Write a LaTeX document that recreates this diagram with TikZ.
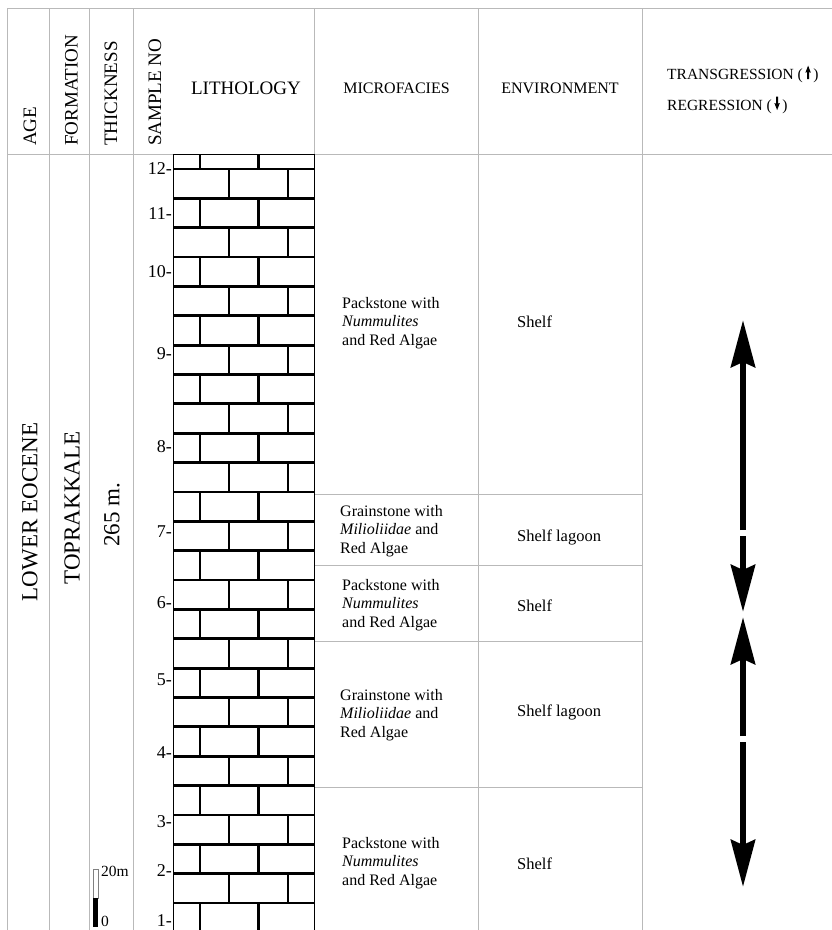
\documentclass[tikz,border=0pt]{standalone}
\usepackage{fontspec}
\setmainfont{Liberation Serif}
\usetikzlibrary{arrows.meta}

% small solid arrows used in the legend text
\newcommand{\uparr}{\tikz[baseline=0pt,x=1pt,y=1pt]\fill (-1,0) -- (-1,7) -- (-2.7,6.5) -- (0,13.5) -- (2.7,6.5) -- (1,7) -- (1,0) -- cycle;}
\newcommand{\downarr}{\tikz[baseline=0pt,x=1pt,y=1pt]\fill (-1,13.5) -- (-1,6.5) -- (-2.7,7) -- (0,0) -- (2.7,7) -- (1,6.5) -- (1,13.5) -- cycle;}

\tikzset{
  grid/.style={draw=gray!55, line width=0.8pt},
  brick/.style={line width=2.8pt},
  colhead/.style={font=\fontsize{19}{22}\selectfont, inner sep=0pt},
  vhead/.style={colhead, rotate=90, anchor=west},
  bigtext/.style={font=\fontsize{23}{26}\selectfont, inner sep=0pt, rotate=90},
  facies/.style={font=\fontsize{16}{18.7}\selectfont, align=left, anchor=west, inner sep=0pt},
  envtext/.style={font=\fontsize{16.5}{19}\selectfont, anchor=west, inner sep=0pt},
  sample/.style={font=\fontsize{18}{20}\selectfont, anchor=east, inner sep=0pt},
  trend/.style={line width=6.5pt, -{Stealth[length=47pt,width=24pt,inset=5pt]}}
}

\begin{document}
\begin{tikzpicture}[x=1pt,y=-1pt]
    \clip (0,0) rectangle (832,930);

    % Table frame
    \draw[grid] (7,8) -- (832,8) (7,154) -- (832,154);
    \foreach \x in {7,49,89,133,314,478,642}
        \draw[grid] (\x,8) -- (\x,930);
    \foreach \y in {494,565,641,787}
        \draw[grid] (314,\y) -- (642,\y);

    % Column headers
    \node[vhead] (hage) at (30,146) {AGE};
    \node[vhead] (hform) at (71.5,146) {FORMATION};
    \node[vhead] (hthick) at (111,146) {THICKNESS};
    \node[vhead] (hsample) at (155,146) {SAMPLE NO};
    \node[colhead] (hlith) at (246,88) {LITHOLOGY};
    \node[colhead, font=\fontsize{16}{19}\selectfont] (hfac) at (396.5,88) {MICROFACIES};
    \node[colhead, font=\fontsize{16}{19}\selectfont] (henv) at (560,88) {ENVIRONMENT};
    \node[colhead, anchor=west, font=\fontsize{15.5}{18}\selectfont] (htr) at (667,74) {TRANSGRESSION (\,\uparr\,)};
    \node[colhead, anchor=west, font=\fontsize{15.5}{18}\selectfont] (hreg) at (667,105) {REGRESSION (\,\downarr\,)};

    % Age, formation, thickness
    \node[bigtext] (age) at (30,512) {LOWER EOCENE};
    \node[bigtext] (form) at (72,508) {TOPRAKKALE};
    \node[bigtext] (thick) at (112,515) {265 m.};

    % Scale bar
    \draw[draw=gray, line width=0.6pt] (93,869) rectangle (98,898);
    \fill (93,898) rectangle (98,927);
    \node[envtext, font=\fontsize{15.5}{18}\selectfont] (s20) at (101,871) {20m};
    \node[envtext, font=\fontsize{15.5}{18}\selectfont] (s0) at (101,921) {0};

    % Lithology: limestone bricks
    \draw[line width=0.8pt] (173,154) rectangle (314,935);
    \begin{scope}
        \clip (173,154) rectangle (314,935);
        \foreach \k in {0,...,25}
            \draw[brick] (173,{169+29.36*\k}) -- (314,{169+29.36*\k});
        \foreach \k in {-1,1,...,25}
            \draw[brick] (200,{169+29.36*\k}) -- ++(0,29.36) (258.5,{169+29.36*\k}) -- ++(0,29.36);
        \foreach \k in {0,2,...,24}
            \draw[brick] (229,{169+29.36*\k}) -- ++(0,29.36) (288,{169+29.36*\k}) -- ++(0,29.36);
    \end{scope}

    % Sample numbers
    \foreach \n/\y in {12/169,11/214,10/272,9/354,8/447,7/532,6/603,5/680,4/753,3/822,2/871,1/921}
        \node[sample] (s\n) at (172,\y) {\n-};

    % Microfacies
    \node[facies] (f1) at (342,323) {Packstone with\\\textit{Nummulites}\\and Red Algae};
    \node[facies] (f2) at (340,531) {Grainstone with\\\textit{Milioliidae} and\\Red Algae};
    \node[facies] (f3) at (342,605) {Packstone with\\\textit{Nummulites}\\and Red Algae};
    \node[facies] (f4) at (340,715) {Grainstone with\\\textit{Milioliidae} and\\Red Algae};
    \node[facies] (f5) at (342,863) {Packstone with\\\textit{Nummulites}\\and Red Algae};

    % Environment
    \node[envtext] (e1) at (517,322) {Shelf};
    \node[envtext] (e2) at (517,537) {Shelf lagoon};
    \node[envtext] (e3) at (517,606) {Shelf};
    \node[envtext] (e4) at (517,712) {Shelf lagoon};
    \node[envtext] (e5) at (517,864) {Shelf};

    % Transgression / regression arrows
    \coordinate (top1) at (743,320);
    \coordinate (mid1a) at (743,530);
    \coordinate (mid1b) at (743,536);
    \coordinate (bot1) at (743,612);
    \coordinate (top2) at (743,617);
    \coordinate (mid2a) at (743,736);
    \coordinate (mid2b) at (743,742);
    \coordinate (bot2) at (743,887);
    \draw[trend] (mid1a) -- (top1);
    \draw[trend] (mid1b) -- (bot1);
    \draw[trend] (mid2a) -- (top2);
    \draw[trend] (mid2b) -- (bot2);

\end{tikzpicture}
\end{document}
